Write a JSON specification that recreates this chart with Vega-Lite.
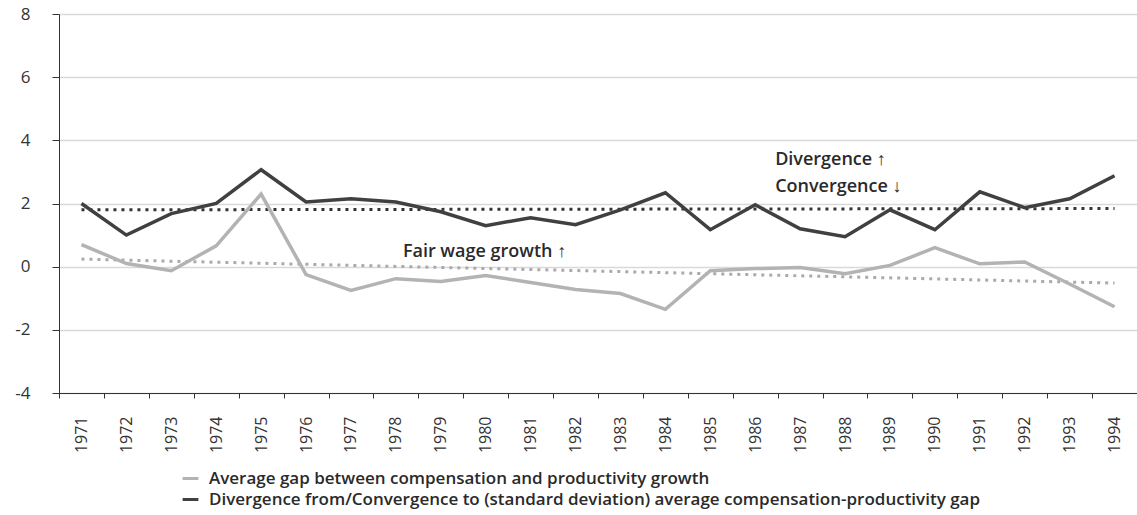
{
  "$schema": "https://vega.github.io/schema/vega-lite/v6.json",
  "width": 1078,
  "height": 379,
  "autosize": {"type": "none"},
  "padding": {"left": 59, "top": 14, "right": 0, "bottom": 122},
  "background": "white",
  "config": {
    "view": {"stroke": null},
    "font": "Open Sans"
  },
  "datasets": {
    "main": [
      {"year": "1971", "series": "Average gap between compensation and productivity growth", "value": 0.7},
      {"year": "1972", "series": "Average gap between compensation and productivity growth", "value": 0.1},
      {"year": "1973", "series": "Average gap between compensation and productivity growth", "value": -0.13},
      {"year": "1974", "series": "Average gap between compensation and productivity growth", "value": 0.66},
      {"year": "1975", "series": "Average gap between compensation and productivity growth", "value": 2.3},
      {"year": "1976", "series": "Average gap between compensation and productivity growth", "value": -0.25},
      {"year": "1977", "series": "Average gap between compensation and productivity growth", "value": -0.75},
      {"year": "1978", "series": "Average gap between compensation and productivity growth", "value": -0.38},
      {"year": "1979", "series": "Average gap between compensation and productivity growth", "value": -0.47},
      {"year": "1980", "series": "Average gap between compensation and productivity growth", "value": -0.28},
      {"year": "1981", "series": "Average gap between compensation and productivity growth", "value": -0.5},
      {"year": "1982", "series": "Average gap between compensation and productivity growth", "value": -0.72},
      {"year": "1983", "series": "Average gap between compensation and productivity growth", "value": -0.85},
      {"year": "1984", "series": "Average gap between compensation and productivity growth", "value": -1.35},
      {"year": "1985", "series": "Average gap between compensation and productivity growth", "value": -0.13},
      {"year": "1986", "series": "Average gap between compensation and productivity growth", "value": -0.06},
      {"year": "1987", "series": "Average gap between compensation and productivity growth", "value": -0.03},
      {"year": "1988", "series": "Average gap between compensation and productivity growth", "value": -0.22},
      {"year": "1989", "series": "Average gap between compensation and productivity growth", "value": 0.04},
      {"year": "1990", "series": "Average gap between compensation and productivity growth", "value": 0.6},
      {"year": "1991", "series": "Average gap between compensation and productivity growth", "value": 0.09},
      {"year": "1992", "series": "Average gap between compensation and productivity growth", "value": 0.15},
      {"year": "1993", "series": "Average gap between compensation and productivity growth", "value": -0.55},
      {"year": "1994", "series": "Average gap between compensation and productivity growth", "value": -1.27},
      {"year": "1971", "series": "Divergence from/Convergence to (standard deviation) average compensation-productivity gap", "value": 2.0},
      {"year": "1972", "series": "Divergence from/Convergence to (standard deviation) average compensation-productivity gap", "value": 1.0},
      {"year": "1973", "series": "Divergence from/Convergence to (standard deviation) average compensation-productivity gap", "value": 1.68},
      {"year": "1974", "series": "Divergence from/Convergence to (standard deviation) average compensation-productivity gap", "value": 2.0},
      {"year": "1975", "series": "Divergence from/Convergence to (standard deviation) average compensation-productivity gap", "value": 3.07},
      {"year": "1976", "series": "Divergence from/Convergence to (standard deviation) average compensation-productivity gap", "value": 2.05},
      {"year": "1977", "series": "Divergence from/Convergence to (standard deviation) average compensation-productivity gap", "value": 2.15},
      {"year": "1978", "series": "Divergence from/Convergence to (standard deviation) average compensation-productivity gap", "value": 2.05},
      {"year": "1979", "series": "Divergence from/Convergence to (standard deviation) average compensation-productivity gap", "value": 1.74},
      {"year": "1980", "series": "Divergence from/Convergence to (standard deviation) average compensation-productivity gap", "value": 1.3},
      {"year": "1981", "series": "Divergence from/Convergence to (standard deviation) average compensation-productivity gap", "value": 1.55},
      {"year": "1982", "series": "Divergence from/Convergence to (standard deviation) average compensation-productivity gap", "value": 1.33},
      {"year": "1983", "series": "Divergence from/Convergence to (standard deviation) average compensation-productivity gap", "value": 1.8},
      {"year": "1984", "series": "Divergence from/Convergence to (standard deviation) average compensation-productivity gap", "value": 2.34},
      {"year": "1985", "series": "Divergence from/Convergence to (standard deviation) average compensation-productivity gap", "value": 1.17},
      {"year": "1986", "series": "Divergence from/Convergence to (standard deviation) average compensation-productivity gap", "value": 1.96},
      {"year": "1987", "series": "Divergence from/Convergence to (standard deviation) average compensation-productivity gap", "value": 1.2},
      {"year": "1988", "series": "Divergence from/Convergence to (standard deviation) average compensation-productivity gap", "value": 0.95},
      {"year": "1989", "series": "Divergence from/Convergence to (standard deviation) average compensation-productivity gap", "value": 1.8},
      {"year": "1990", "series": "Divergence from/Convergence to (standard deviation) average compensation-productivity gap", "value": 1.17},
      {"year": "1991", "series": "Divergence from/Convergence to (standard deviation) average compensation-productivity gap", "value": 2.37},
      {"year": "1992", "series": "Divergence from/Convergence to (standard deviation) average compensation-productivity gap", "value": 1.87},
      {"year": "1993", "series": "Divergence from/Convergence to (standard deviation) average compensation-productivity gap", "value": 2.15},
      {"year": "1994", "series": "Divergence from/Convergence to (standard deviation) average compensation-productivity gap", "value": 2.88}
    ],
    "trend": [
      {"year": "1971", "trend": "gap", "value": 0.24},
      {"year": "1994", "trend": "gap", "value": -0.52},
      {"year": "1971", "trend": "div", "value": 1.8},
      {"year": "1994", "trend": "div", "value": 1.84}
    ],
    "note1": [
      {"year": "1978", "value": 0.475, "label": "Fair wage growth ↑"}
    ],
    "note2": [
      {"year": "1987", "value": 3.39, "label": "Divergence ↑"},
      {"year": "1987", "value": 2.53, "label": "Convergence ↓"}
    ]
  },
  "encoding": {
    "x": {
      "field": "year",
      "type": "ordinal",
      "scale": {"paddingInner": 0, "paddingOuter": 0},
      "axis": {
        "title": null,
        "labelAngle": -90,
        "labelFontSize": 16,
        "labelColor": "#333333",
        "labelPadding": 18,
        "tickSize": 5,
        "tickBand": "extent",
        "tickColor": "#333333",
        "domainColor": "#333333",
        "domainWidth": 1,
        "grid": false
      }
    },
    "y": {
      "field": "value",
      "type": "quantitative",
      "scale": {"domain": [-4, 8], "nice": false, "zero": false},
      "axis": {
        "title": null,
        "values": [-4, -2, 0, 2, 4, 6, 8],
        "labelExpr": "'' + datum.value",
        "labelFontSize": 17,
        "labelColor": "#333333",
        "labelPadding": 22,
        "tickSize": 7,
        "tickColor": "#333333",
        "domainColor": "#333333",
        "gridColor": "#d9d9d9",
        "gridWidth": 1.5
      }
    }
  },
  "layer": [
    {
      "data": {"name": "trend"},
      "mark": {"type": "line", "strokeWidth": 3, "strokeDash": [3, 5], "strokeCap": "butt"},
      "encoding": {
        "detail": {"field": "trend"},
        "color": {
          "field": "trend",
          "type": "nominal",
          "scale": {"domain": ["gap", "div"], "range": ["#aaaaaa", "#333333"]},
          "legend": null
        }
      }
    },
    {
      "data": {"name": "main"},
      "mark": {"type": "line", "strokeWidth": 3.5},
      "encoding": {
        "stroke": {
          "field": "series",
          "type": "nominal",
          "scale": {
            "domain": ["Average gap between compensation and productivity growth", "Divergence from/Convergence to (standard deviation) average compensation-productivity gap"],
            "range": ["#b3b3b3", "#404040"]
          },
          "legend": {
            "title": null,
            "orient": "none",
            "legendX": 122,
            "legendY": 455,
            "direction": "vertical",
            "symbolType": "stroke",
            "symbolSize": 250,
            "symbolStrokeWidth": 3,
            "labelFont": "Open Sans",
            "labelFontWeight": 600,
            "labelFontSize": 17,
            "labelColor": "#2a2a2a",
            "labelLimit": 1000,
            "rowPadding": 3,
            "labelOffset": 9
          }
        }
      }
    },
    {
      "data": {"name": "note1"},
      "mark": {"type": "text", "align": "left", "baseline": "middle", "dx": 7, "font": "Open Sans", "fontWeight": 600, "fontSize": 18, "color": "#2a2a2a"},
      "encoding": {
        "text": {"field": "label"}
      }
    },
    {
      "data": {"name": "note2"},
      "mark": {"type": "text", "align": "left", "baseline": "middle", "dx": -25, "font": "Open Sans", "fontWeight": 600, "fontSize": 18, "color": "#2a2a2a"},
      "encoding": {
        "text": {"field": "label"}
      }
    }
  ]
}
